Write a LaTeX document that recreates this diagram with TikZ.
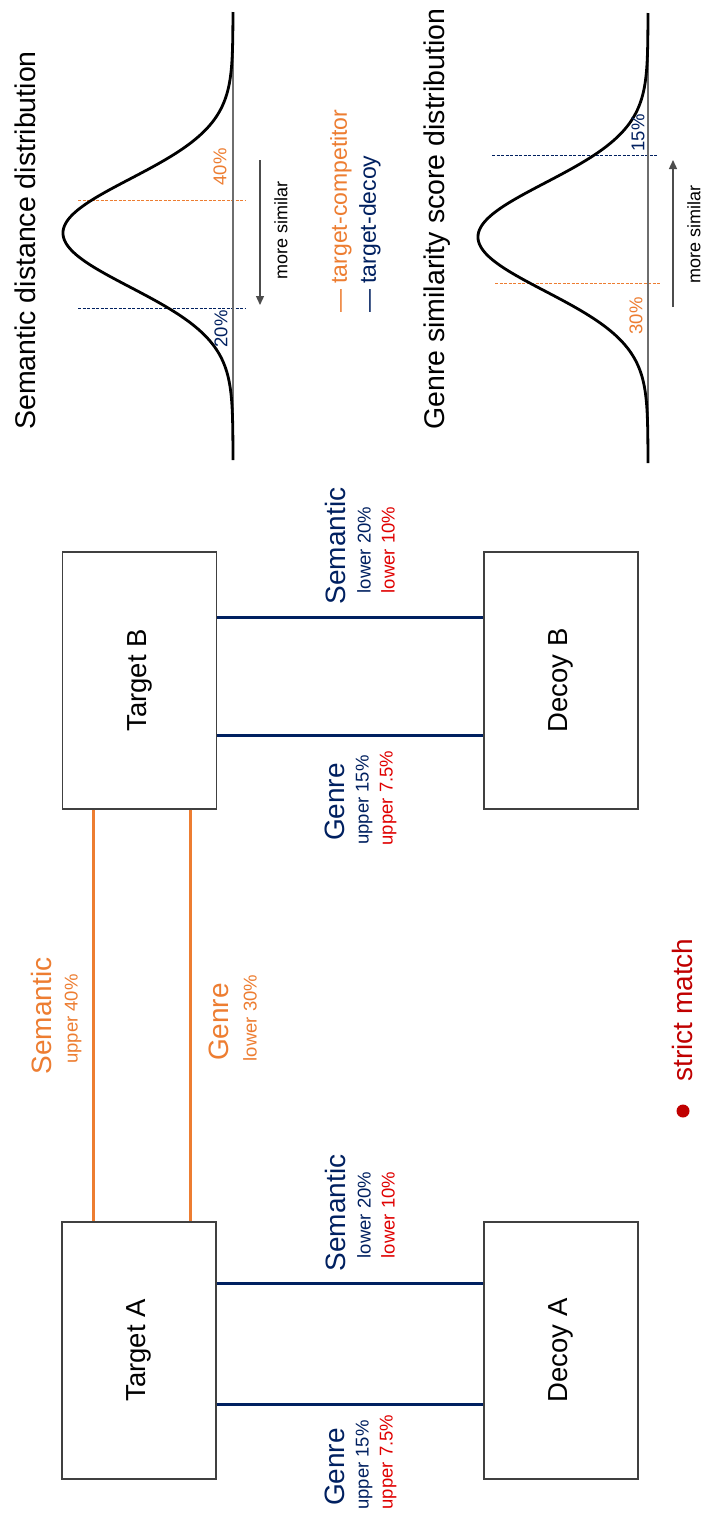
\documentclass[tikz,border=0pt]{standalone}
\usepackage{fontspec}
\usepackage{graphicx}
\setmainfont{Liberation Sans}
\usetikzlibrary{arrows.meta}
\definecolor{orC}{HTML}{ED7D31}
\definecolor{nvC}{HTML}{002060}
\definecolor{rdC}{HTML}{E00000}
\definecolor{smC}{HTML}{C00000}
\definecolor{boxC}{HTML}{404040}
\definecolor{baseC}{HTML}{6E6E6E}
\begin{document}
\begin{tikzpicture}[x=1pt,y=-1pt,
  box/.style={draw=boxC,line width=1.3pt,minimum width=154pt,minimum height=257pt,inner sep=0pt,font=\fontsize{27.5}{30}\selectfont},
  vtxt/.style={rotate=90,inner sep=0pt},
  bigf/.style={vtxt,font=\fontsize{28}{30}\selectfont},
  smallf/.style={vtxt,font=\fontsize{18.5}{21}\selectfont},
  legf/.style={vtxt,anchor=west,font=\fontsize{23}{25}\selectfont},
  titlef/.style={vtxt,anchor=west,font=\fontsize{28.5}{30}\selectfont},
  navyline/.style={draw=nvC,line width=3pt},
  orline/.style={draw=orC,line width=3pt},
  curve/.style={line width=2.8pt,black},
  baseln/.style={line width=1.8pt,baseC},
  dashl/.style={line width=1pt,dash pattern=on 3pt off 1.5pt},
  arr/.style={line width=1.3pt,black!70,-{Triangle[length=9pt,width=8pt]}}
]
\fill[white] (0,0) rectangle (709,1521);
\useasboundingbox (0,0) rectangle (709,1521);

% boxes
\node[box] (TB) at (139.5,680.5) {\rotatebox{90}{Target B}};
\node[box] (DB) at (561,680.5) {\rotatebox{90}{Decoy B}};
\node[box] (TA) at (139,1350.5) {\rotatebox{90}{Target A}};
\node[box] (DA) at (561,1350.5) {\rotatebox{90}{Decoy A}};

% connectors
\draw[navyline] (TB.east |- 0,617) -- (DB.west |- 0,617);
\draw[navyline] (TB.east |- 0,735) -- (DB.west |- 0,735);
\draw[navyline] (TA.east |- 0,1283) -- (DA.west |- 0,1283);
\draw[navyline] (TA.east |- 0,1404) -- (DA.west |- 0,1404);
\draw[orline] (TB.south -| 93,0) -- (TA.north -| 93,0);
\draw[orline] (TB.south -| 190,0) -- (TA.north -| 190,0);

% B labels
\node[bigf,text=nvC] (bs1) at (335,546) {Semantic};
\node[smallf,text=nvC] (bs2) at (364,550) {lower 20\%};
\node[smallf,text=rdC] (bs3) at (388,550) {lower 10\%};
\node[bigf,text=nvC] (bg1) at (335,802) {Genre};
\node[smallf,text=nvC] (bg2) at (364,800) {upper 15\%};
\node[smallf,text=rdC] (bg3) at (388,798) {upper 7.5\%};
% A labels
\node[bigf,text=nvC] (as1) at (335,1213) {Semantic};
\node[smallf,text=nvC] (as2) at (364,1215) {lower 20\%};
\node[smallf,text=rdC] (as3) at (388,1215) {lower 10\%};
\node[bigf,text=nvC] (ag1) at (335,1467) {Genre};
\node[smallf,text=nvC] (ag2) at (364,1465) {upper 15\%};
\node[smallf,text=rdC] (ag3) at (388,1462) {upper 7.5\%};
% orange labels
\node[bigf,text=orC] (os1) at (41,1016) {Semantic};
\node[smallf,text=orC] (os2) at (73,1019) {upper 40\%};
\node[bigf,text=orC] (og1) at (219,1022) {Genre};
\node[smallf,text=orC] (og2) at (250,1018) {lower 30\%};

% strict match
\fill[smC] (683,1111) circle (6.5pt);
\node[bigf,text=smC] (sm) at (682,1010) {strict match};

% semantic distribution
\node[titlef] (t1) at (25,430) {Semantic distance distribution};
\draw[dashl,orC] (78,200) -- (245,200);
\draw[dashl,nvC] (78,308) -- (245,308);
\draw[baseln] (233,12) -- (233,460);
\draw[curve] plot[domain=-221:227,samples=200,variable=\t] ({233-170*exp(-0.5*(\t/54)^2)},{233+\t});
\node[smallf,text=orC] (p40) at (220,167) {40\%};
\node[smallf,text=nvC] (p20) at (221,329) {20\%};
\coordinate (a1s) at (260,160);
\coordinate (a1e) at (260,305);
\draw[arr] (a1s) -- (a1e);
\node[smallf,font=\fontsize{18}{20}\selectfont] (ms1) at (281,230) {more similar};
\node[legf,text=orC] (lg1) at (341,313) {— target-competitor};
\node[legf,text=nvC] (lg2) at (370,313) {— target-decoy};

% genre distribution
\node[titlef] (t2) at (437,430) {Genre similarity score distribution};
\draw[dashl,nvC] (492,155) -- (657,155);
\draw[dashl,orC] (495,283) -- (660,283);
\draw[baseln] (648,13) -- (648,463);
\draw[curve] plot[domain=-224:226,samples=200,variable=\t] ({648-170*exp(-0.5*(\t/54)^2)},{237+\t});
\node[smallf,text=nvC] (p15) at (638,133) {15\%};
\node[smallf,text=orC] (p30) at (636,316) {30\%};
\coordinate (a2s) at (673,307);
\coordinate (a2e) at (673,160);
\draw[arr] (a2s) -- (a2e);
\node[smallf,font=\fontsize{18}{20}\selectfont] (ms2) at (694,234) {more similar};
\end{tikzpicture}
\end{document}
